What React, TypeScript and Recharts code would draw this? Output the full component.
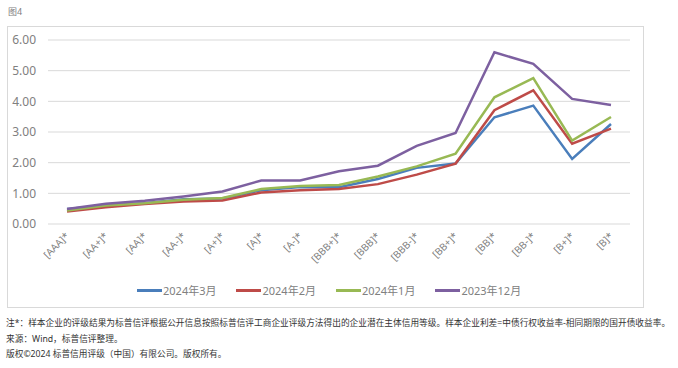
import { LineChart, Line, XAxis, YAxis, CartesianGrid } from 'recharts'

const ratings = ['[AAA]*', '[AA+]*', '[AA]*', '[AA-]*', '[A+]*', '[A]*', '[A-]*', '[BBB+]*', '[BBB]*', '[BBB-]*', '[BB+]*', '[BB]*', '[BB-]*', '[B+]*', '[B]*']

const mar2024 = [0.49, 0.6, 0.68, 0.81, 0.83, 1.1, 1.21, 1.2, 1.47, 1.83, 1.97, 3.48, 3.86, 2.12, 3.26]
const feb2024 = [0.41, 0.55, 0.65, 0.73, 0.77, 1.03, 1.1, 1.14, 1.3, 1.61, 1.97, 3.71, 4.36, 2.62, 3.11]
const jan2024 = [0.44, 0.6, 0.68, 0.79, 0.85, 1.14, 1.24, 1.27, 1.55, 1.88, 2.29, 4.13, 4.76, 2.72, 3.49]
const dec2023 = [0.49, 0.66, 0.76, 0.9, 1.06, 1.42, 1.42, 1.72, 1.9, 2.55, 2.97, 5.6, 5.22, 4.08, 3.88]

const yTicks = [0, 1, 2, 3, 4, 5, 6]

const series = [
  { key: 'mar', name: '2024年3月', color: '#4a7ebb' },
  { key: 'feb', name: '2024年2月', color: '#be4b48' },
  { key: 'jan', name: '2024年1月', color: '#98b954' },
  { key: 'dec', name: '2023年12月', color: '#7d60a0' },
]

const data = ratings.map((r, i) => ({
  name: r,
  mar: mar2024[i],
  feb: feb2024[i],
  jan: jan2024[i],
  dec: dec2023[i],
}))

const font = '"Noto Sans", "Noto Sans CJK SC", sans-serif'

function RatingTick(props: any) {
  const { x, y, payload } = props
  return (
    <text
      x={x}
      y={y}
      transform={`rotate(-45 ${x} ${y})`}
      textAnchor="end"
      dy={4}
      fontSize={10}
      fill="#808080"
      fontFamily={font}
    >
      {payload.value}
    </text>
  )
}

export default function App() {
  return (
    <div style={{ position: 'absolute', left: 0, top: 0, width: 678, height: 368, background: '#fff', fontFamily: font }}>
      <div style={{ position: 'absolute', left: 8, top: 5, fontSize: 9, color: '#808080' }}>图4</div>
      <div style={{ position: 'absolute', left: 7, top: 26, width: 637, height: 282, border: '1px solid #d9d9d9', boxSizing: 'border-box' }} />
      <div style={{ position: 'absolute', left: 0, top: 0 }}>
        <LineChart width={678} height={300} data={data} margin={{ top: 40, right: 48, bottom: 0, left: 8 }}>
          <CartesianGrid vertical={false} stroke="#d9d9d9" />
          <XAxis
            dataKey="name"
            interval={0}
            axisLine={false}
            tickLine={false}
            height={76}
            padding={{ left: 19, right: 19 }}
            tick={<RatingTick />}
            tickMargin={4}
          />
          <YAxis
            domain={[0, 6]}
            ticks={yTicks}
            width={40}
            axisLine={false}
            tickLine={false}
            tickMargin={6}
            tickFormatter={(v: number) => v.toFixed(2)}
            tick={{ fontSize: 12, fill: '#808080', fontFamily: font }}
          />
          {series.map(s => (
            <Line
              key={s.key}
              type="linear"
              dataKey={s.key}
              name={s.name}
              stroke={s.color}
              strokeWidth={2.5}
              dot={false}
              isAnimationActive={false}
            />
          ))}
        </LineChart>
      </div>
      <div style={{ position: 'absolute', left: 137, top: 282, display: 'flex', fontSize: 11, color: '#808080' }}>
        {series.map(s => (
          <div key={s.key} style={{ display: 'flex', alignItems: 'center', marginRight: 20 }}>
            <div style={{ width: 25, height: 3, background: s.color }} />
            <span style={{ marginLeft: 1 }}>{s.name}</span>
          </div>
        ))}
      </div>
      <div style={{ position: 'absolute', left: 6, top: 316, fontSize: 8.7, lineHeight: '15.5px', color: '#333', whiteSpace: 'nowrap' }}>
        <div>注*：样本企业的评级结果为标普信评根据公开信息按照标普信评工商企业评级方法得出的企业潜在主体信用等级。样本企业利差=中债行权收益率-相同期限的国开债收益率。</div>
        <div>来源：Wind，标普信评整理。</div>
        <div>版权©2024 标普信用评级（中国）有限公司。版权所有。</div>
      </div>
    </div>
  )
}
